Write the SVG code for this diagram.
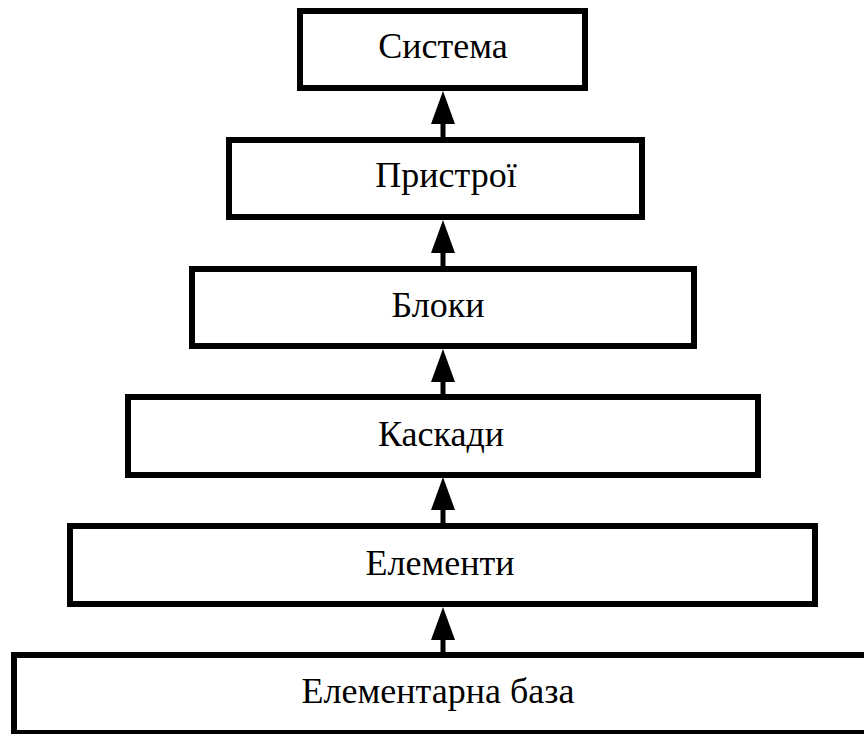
<svg xmlns="http://www.w3.org/2000/svg" width="864" height="734" viewBox="0 0 864 734">
  <style>
    .box { fill: #ffffff; stroke: #000000; stroke-width: 6; }
    .label { font-family: "Liberation Serif", "Times New Roman", serif; font-size: 36px; fill: #000000; text-anchor: middle; }
    .conn { stroke: #000000; stroke-width: 5; fill: none; }
  </style>
  <defs>
    <marker id="head" markerUnits="userSpaceOnUse" viewBox="0 0 33 24" refX="0" refY="12" markerWidth="33" markerHeight="24" orient="auto">
      <path d="M0,0 L33,12 L0,24 Z" fill="#000000"/>
    </marker>
  </defs>
  <rect width="864" height="734" fill="#ffffff"/>
  <g id="node-systema">
    <rect class="box" x="300" y="11" width="285" height="77"/>
    <text class="label" x="443" y="58">Система</text>
  </g>
  <g id="node-prystroi">
    <rect class="box" x="229" y="140" width="413" height="77"/>
    <text class="label" x="446" y="187">Пристрої</text>
  </g>
  <g id="node-bloky">
    <rect class="box" x="192" y="269" width="502" height="77"/>
    <text class="label" x="438" y="317">Блоки</text>
  </g>
  <g id="node-kaskady">
    <rect class="box" x="128" y="397" width="630" height="78"/>
    <text class="label" x="441" y="446">Каскади</text>
  </g>
  <g id="node-elementy">
    <rect class="box" x="70" y="526" width="745" height="78"/>
    <text class="label" x="440" y="575">Елементи</text>
  </g>
  <g id="node-baza">
    <rect class="box" x="14" y="655" width="870" height="78"/>
    <text class="label" x="438" y="703">Елементарна база</text>
  </g>
  <g id="connectors">
    <line class="conn" x1="443" y1="138" x2="443" y2="124" marker-end="url(#head)"/>
    <line class="conn" x1="443" y1="267" x2="443" y2="253" marker-end="url(#head)"/>
    <line class="conn" x1="443" y1="395" x2="443" y2="382" marker-end="url(#head)"/>
    <line class="conn" x1="443" y1="524" x2="443" y2="510" marker-end="url(#head)"/>
    <line class="conn" x1="443" y1="653" x2="443" y2="640" marker-end="url(#head)"/>
  </g>
</svg>
